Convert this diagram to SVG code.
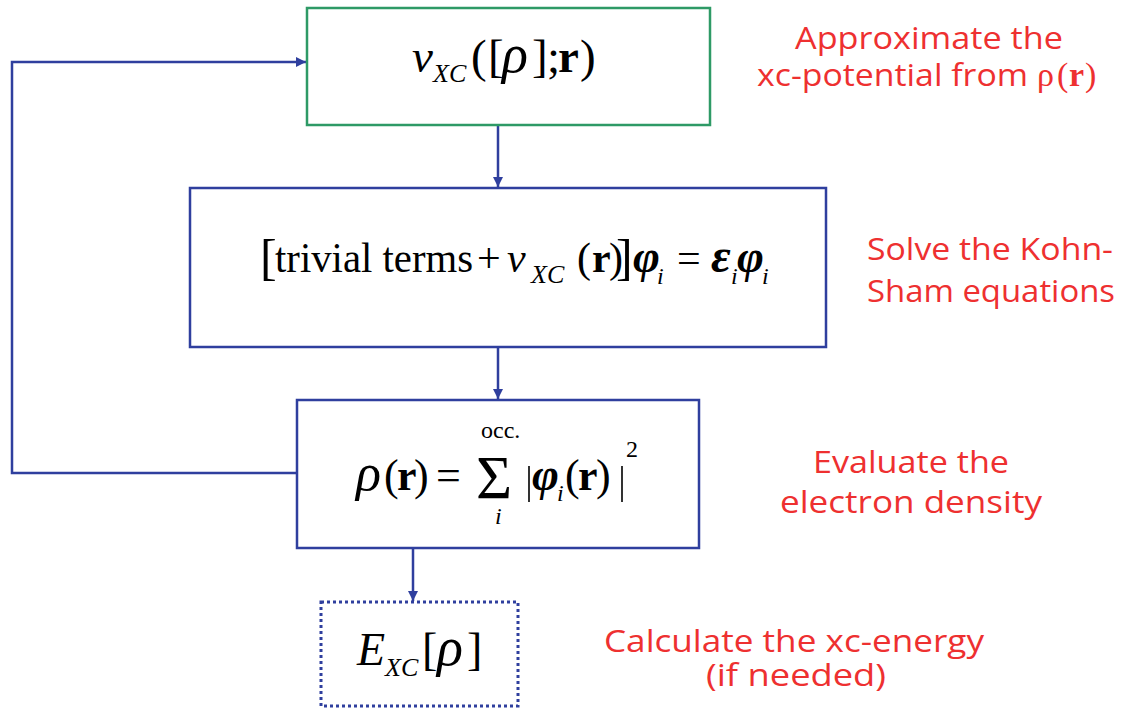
<svg xmlns="http://www.w3.org/2000/svg" width="1123" height="709" viewBox="0 0 1123 709">
<defs>
<marker id="ah" viewBox="0 0 10 10" refX="10" refY="5" markerWidth="10" markerHeight="10" markerUnits="userSpaceOnUse" orient="auto">
<path d="M0,0 L10,5 L0,10 Z" fill="#2f3f9e"/>
</marker>
<style>
.box{fill:#fff;stroke:#2f3f9e;stroke-width:2.5}
.green{stroke:#2e9a66}
.dot{stroke-dasharray:3 3;stroke-width:3}
.con{fill:none;stroke:#2f3f9e;stroke-width:2.5}
.m{font-family:"Liberation Serif","Times New Roman",serif;fill:#000;font-size:44px}
.it{font-style:italic}
.b{font-weight:bold}
.s{font-size:26px}
.g{font-style:italic;font-size:52px}
.lab{font-family:"Open Sans","DejaVu Sans",sans-serif;fill:#ee3030;font-size:31px}
.lm{font-family:"Liberation Serif",serif;fill:#ee3030;font-size:34px}
</style>
</defs>
<rect width="1123" height="709" fill="#fff"/>
<g id="connectors">
<path class="con" d="M498,125 V187" marker-end="url(#ah)"/>
<path class="con" d="M498,347 V399" marker-end="url(#ah)"/>
<path class="con" d="M413,548 V601" marker-end="url(#ah)"/>
<path class="con" d="M297,473 H12 V62 H306" marker-end="url(#ah)"/>
</g>
<g id="node-vxc">
<rect class="box green" x="307" y="8" width="403" height="117"/>
<text class="m" style="font-size:47px"><tspan class="it" x="412" y="72">v</tspan><tspan class="it s" x="433" y="82">XC</tspan><tspan x="471" y="72">(</tspan><tspan x="488" y="72">[</tspan><tspan class="g" x="502" y="72" style="font-size:54px">ρ</tspan><tspan x="532" y="72">]</tspan><tspan x="547" y="72">;</tspan><tspan class="b" x="558" y="72">r</tspan><tspan x="580" y="72">)</tspan></text>
</g>
<g id="node-ks">
<rect class="box" x="190" y="188" width="636" height="159"/>
<text class="m" style="font-size:42px"><tspan x="260" y="274" style="font-size:50px">[</tspan><tspan x="275" y="272" textLength="198" lengthAdjust="spacingAndGlyphs">trivial terms</tspan><tspan x="477" y="272">+</tspan><tspan class="it" x="507" y="272">v</tspan><tspan class="it s" x="531" y="283">XC</tspan><tspan x="577" y="272">(</tspan><tspan class="b" x="592" y="272">r</tspan><tspan x="609" y="272">)</tspan><tspan x="616" y="274" style="font-size:50px">]</tspan><tspan class="g b" x="633" y="272" style="font-size:46px">φ</tspan><tspan class="it s" x="657" y="284" style="font-size:24px">i</tspan><tspan x="677" y="272">=</tspan><tspan class="g b" x="711" y="272" style="font-size:48px">ε</tspan><tspan class="it s" x="731" y="284" style="font-size:24px">i</tspan><tspan class="g b" x="737" y="272" style="font-size:46px">φ</tspan><tspan class="it s" x="762" y="284" style="font-size:24px">i</tspan></text>
</g>
<g id="node-rho">
<rect class="box" x="297" y="400" width="402" height="148"/>
<text class="m"><tspan class="g" x="356" y="490">ρ</tspan><tspan x="384" y="490">(</tspan><tspan class="b" x="397" y="490">r</tspan><tspan x="414" y="490">)</tspan><tspan x="436" y="490">=</tspan><tspan x="476" y="498" style="font-size:62px">Σ</tspan><tspan x="481" y="438" style="font-size:24px">occ.</tspan><tspan class="it" x="495" y="524" style="font-size:24px">i</tspan><tspan class="g b" x="532" y="490" style="font-size:46px">φ</tspan><tspan class="it" x="557" y="501" style="font-size:24px">i</tspan><tspan x="565" y="490">(</tspan><tspan class="b" x="578" y="490">r</tspan><tspan x="596" y="490">)</tspan><tspan x="626" y="457" style="font-size:24px">2</tspan></text>
<path d="M529,466 V502 M622,466 V502" stroke="#000" stroke-width="1.6"/>
</g>
<g id="node-exc">
<rect class="box dot" x="321" y="602" width="197" height="104"/>
<text class="m" style="font-size:46px"><tspan class="it" x="357" y="665">E</tspan><tspan class="it s" x="385" y="676">XC</tspan><tspan x="422" y="665">[</tspan><tspan class="g" x="437" y="665" style="font-size:54px">ρ</tspan><tspan x="467" y="665">]</tspan></text>
</g>
<g id="labels">
<text class="lab" x="795" y="49" textLength="268" lengthAdjust="spacingAndGlyphs">Approximate the</text>
<text class="lab" x="757" y="86" textLength="271" lengthAdjust="spacingAndGlyphs">xc-potential from</text>
<text class="lm"><tspan x="1037" y="86">ρ</tspan><tspan x="1057" y="86">(</tspan><tspan x="1069" y="86" font-weight="bold">r</tspan><tspan x="1085" y="86">)</tspan></text>
<text class="lab" x="867" y="260" textLength="246" lengthAdjust="spacingAndGlyphs">Solve the Kohn-</text>
<text class="lab" x="867" y="302" textLength="248" lengthAdjust="spacingAndGlyphs">Sham equations</text>
<text class="lab" x="813" y="473" textLength="196" lengthAdjust="spacingAndGlyphs">Evaluate the</text>
<text class="lab" x="780" y="513" textLength="262" lengthAdjust="spacingAndGlyphs">electron density</text>
<text class="lab" x="604" y="652" textLength="380" lengthAdjust="spacingAndGlyphs">Calculate the xc-energy</text>
<text class="lab" x="706" y="686" textLength="180" lengthAdjust="spacingAndGlyphs">(if needed)</text>
</g>
</svg>
